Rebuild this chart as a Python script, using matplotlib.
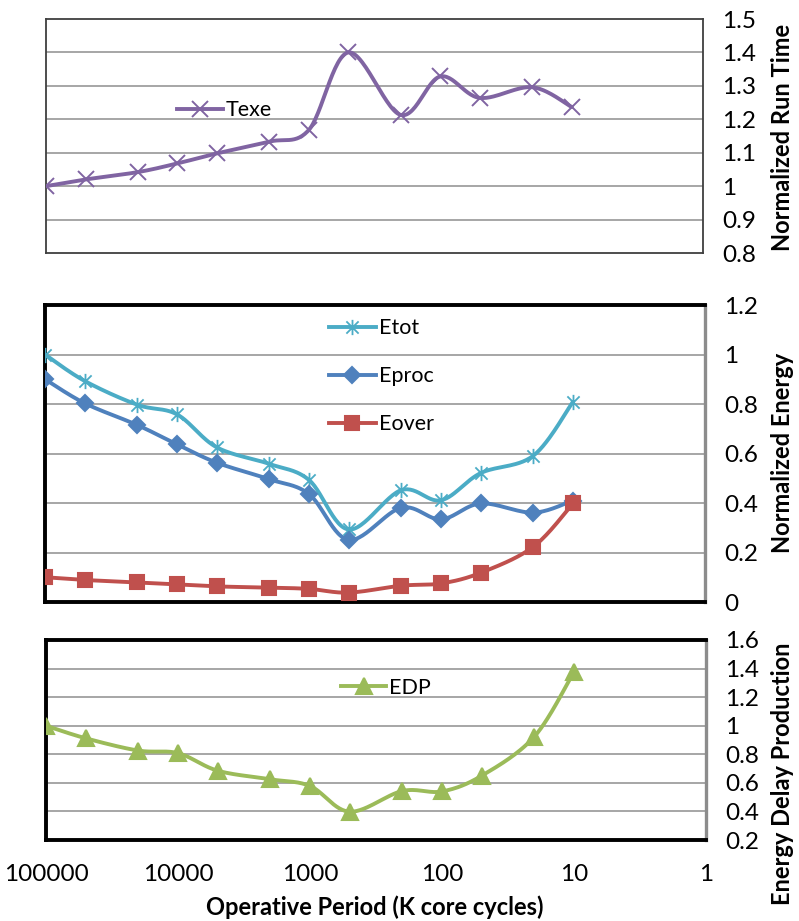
import numpy as np
import matplotlib
matplotlib.use("Agg")
import matplotlib.pyplot as plt
from matplotlib.path import Path

# Operative period in K core cycles
period = [100000, 50000, 20000, 10000, 5000, 2000, 1000, 500, 200, 100, 50, 20, 10]

texe = [1.00, 1.02, 1.042, 1.068, 1.098, 1.133, 1.168, 1.40, 1.213, 1.328, 1.264, 1.296, 1.237]
etot = [1.00, 0.893, 0.797, 0.758, 0.625, 0.558, 0.493, 0.293, 0.452, 0.411, 0.521, 0.591, 0.809]
eproc = [0.90, 0.803, 0.715, 0.637, 0.563, 0.496, 0.436, 0.251, 0.381, 0.334, 0.398, 0.361, 0.410]
eover = [0.100, 0.089, 0.079, 0.071, 0.063, 0.058, 0.053, 0.038, 0.066, 0.075, 0.118, 0.223, 0.398]
edp = [1.00, 0.912, 0.826, 0.808, 0.685, 0.625, 0.578, 0.398, 0.543, 0.540, 0.650, 0.923, 1.378]

x_ticks = [100000, 10000, 1000, 100, 10, 1]
x_tick_labels = ["100000", "10000", "1000", "100", "10", "1"]

C_TEXE = "#8064A2"
C_ETOT = "#4BACC6"
C_EPROC = "#4F81BD"
C_EOVER = "#C0504D"
C_EDP = "#9BBB59"
GRID = "#A6A6A6"

TICK_FS = 17.5
LABEL_FS = 17
LEGEND_FS = 15.5

plt.rcParams["font.family"] = ["Lato", "DejaVu Sans"]

# asterisk marker: an x with a vertical bar through it
STAR = Path([(-1, -1), (1, 1), (-1, 1), (1, -1), (0, -1.25), (0, 1.25)],
            [Path.MOVETO, Path.LINETO, Path.MOVETO, Path.LINETO, Path.MOVETO, Path.LINETO])


def smooth_line(ax, xs, ys, n=30):
    """Bezier-smoothed path through the points, computed in display space."""
    pts = ax.transData.transform(np.column_stack([xs, ys]))
    m = len(pts)
    out = []
    t = np.linspace(0, 1, n)[:, None]
    for i in range(m - 1):
        p0 = pts[i]
        p1 = pts[i + 1]
        pm = pts[i - 1] if i > 0 else pts[i]
        pp = pts[i + 2] if i + 2 < m else pts[i + 1]
        c1 = p0 + (p1 - pm) / 6.0
        c2 = p1 - (pp - p0) / 6.0
        seg = ((1 - t) ** 3) * p0 + 3 * ((1 - t) ** 2) * t * c1 + 3 * (1 - t) * t ** 2 * c2 + t ** 3 * p1
        out.append(seg if i == 0 else seg[1:])
    curve = np.vstack(out)
    return ax.transData.inverted().transform(curve)


def draw_series(ax, ys, color, marker, msize, mew=1.5, lw=2.8, label=None, filled=True):
    curve = smooth_line(ax, period, ys)
    ax.plot(curve[:, 0], curve[:, 1], color=color, lw=lw, solid_capstyle="round", zorder=3)
    mkw = dict(marker=marker, markersize=msize, markeredgewidth=mew, color=color, linestyle="none", zorder=4)
    if filled:
        mkw.update(markerfacecolor=color, markeredgecolor=color)
    ax.plot(period, ys, **mkw)
    # legend proxy with line and marker
    ax.plot([], [], color=color, lw=lw, marker=marker, markersize=msize, markeredgewidth=mew,
            markerfacecolor=color if filled else "none", markeredgecolor=color, label=label)


def setup(ax, ylim, yticks, ylabels, frame="thick"):
    ax.set_xscale("log")
    ax.set_xlim(100000, 1)
    ax.set_ylim(*ylim)
    ax.set_yticks(yticks)
    ax.set_yticklabels(ylabels)
    ax.yaxis.tick_right()
    ax.tick_params(axis="y", length=0, pad=14, labelsize=TICK_FS)
    ax.tick_params(axis="x", which="both", length=0)
    ax.xaxis.set_minor_locator(matplotlib.ticker.NullLocator())
    for y in yticks[1:-1]:
        ax.axhline(y, color=GRID, lw=1.4, zorder=1)
    if frame == "thin":
        for s in ax.spines.values():
            s.set_color("#3F3F3F")
            s.set_linewidth(1.3)
    else:
        for k in ("left", "top", "bottom"):
            ax.spines[k].set_color("black")
            ax.spines[k].set_linewidth(2.8)
        ax.spines["right"].set_color("#8C8C8C")
        ax.spines["right"].set_linewidth(2.4)


fig = plt.figure(figsize=(7.99, 9.21), dpi=100)
W, H = 799.0, 921.0

def axes_px(left, right, top, bottom):
    return fig.add_axes([left / W, (H - bottom) / H, (right - left) / W, (bottom - top) / H])

# Run time panel
ax1 = axes_px(46, 703, 19, 253)
setup(ax1, (0.8, 1.5), [0.8, 0.9, 1.0, 1.1, 1.2, 1.3, 1.4, 1.5],
      ["0.8", "0.9", "1", "1.1", "1.2", "1.3", "1.4", "1.5"], frame="thin")
ax1.set_xticks([])
draw_series(ax1, texe, C_TEXE, "x", 11, mew=1.4, label="Texe", filled=False)
ax1.legend(loc="center left", bbox_to_anchor=(0.2, 0.61), frameon=False, fontsize=LEGEND_FS,
           handlelength=2.1, handletextpad=0.15, borderpad=0, borderaxespad=0)

# Energy panel
ax2 = axes_px(45, 705, 305, 602)
setup(ax2, (0.0, 1.2), [0.0, 0.2, 0.4, 0.6, 0.8, 1.0, 1.2],
      ["0", "0.2", "0.4", "0.6", "0.8", "1", "1.2"])
ax2.set_xticks([])
draw_series(ax2, etot, C_ETOT, STAR, 11, mew=1.3, label="Etot", filled=False)
draw_series(ax2, eproc, C_EPROC, "D", 8.5, label="Eproc")
draw_series(ax2, eover, C_EOVER, "s", 10, label="Eover")
ax2.legend(loc="upper left", bbox_to_anchor=(0.43, 0.955), frameon=False, fontsize=LEGEND_FS,
           handlelength=2.2, handletextpad=0.15, borderpad=0, borderaxespad=0, labelspacing=1.3)

# Energy-delay panel
ax3 = axes_px(46, 706, 640, 840)
setup(ax3, (0.2, 1.6), [0.2, 0.4, 0.6, 0.8, 1.0, 1.2, 1.4, 1.6],
      ["0.2", "0.4", "0.6", "0.8", "1", "1.2", "1.4", "1.6"])
ax3.set_xticks(x_ticks)
ax3.set_xticklabels(x_tick_labels, fontsize=TICK_FS)
ax3.tick_params(axis="x", pad=17)
draw_series(ax3, edp, C_EDP, "^", 11, label="EDP")
ax3.legend(loc="center left", bbox_to_anchor=(0.447, 0.76), frameon=False, fontsize=LEGEND_FS,
           handlelength=2.1, handletextpad=0.15, borderpad=0, borderaxespad=0)

fig.text(375 / W, 1 - 907 / H, "Operative Period (K core cycles)", ha="center", va="center",
         fontsize=LABEL_FS, fontweight="bold")

fig.text(783 / W, 1 - 137 / H, "Normalized Run Time", rotation=90, ha="center", va="center",
         fontsize=LABEL_FS, fontweight="bold")
fig.text(783 / W, 1 - 453 / H, "Normalized Energy", rotation=90, ha="center", va="center",
         fontsize=LABEL_FS, fontweight="bold")
fig.text(783 / W, 1 - 774 / H, "Energy Delay Production", rotation=90, ha="center", va="center",
         fontsize=LABEL_FS, fontweight="bold")

fig.savefig("out.png", dpi=100)
